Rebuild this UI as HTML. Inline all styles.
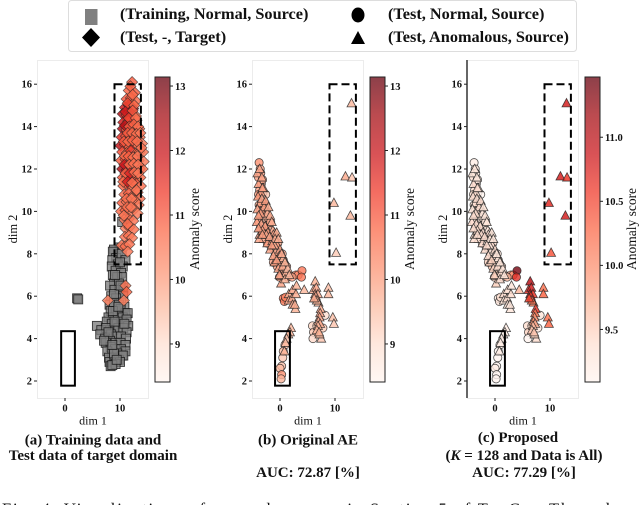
<!DOCTYPE html>
<html>
<head>
<meta charset="utf-8">
<title>Anomaly score visualization</title>
<style>
html,body{margin:0;padding:0;background:#fff;width:640px;height:505px;overflow:hidden}
svg{display:block;font-family:"Liberation Serif",serif;filter:blur(0.35px)}
</style>
</head>
<body>
<svg id="fig" width="640" height="505" viewBox="0 0 640 505" xmlns="http://www.w3.org/2000/svg">
<defs>
<linearGradient id="reds" x1="0" y1="1" x2="0" y2="0">
<stop offset="0" stop-color="#fff5f0"/><stop offset="0.125" stop-color="#fee0d2"/><stop offset="0.25" stop-color="#fcbba1"/><stop offset="0.375" stop-color="#fc9272"/><stop offset="0.5" stop-color="#fb6a4a"/><stop offset="0.625" stop-color="#ef3b2c"/><stop offset="0.75" stop-color="#cb181d"/><stop offset="0.875" stop-color="#a50f15"/><stop offset="1" stop-color="#67000d"/>
</linearGradient>
</defs>
<g>
<rect x="68.5" y="0.5" width="508" height="51" rx="3" fill="#fff" stroke="#ddd"/>
<rect x="85" y="9" width="12.5" height="16" fill="#808080"/>
<polygon points="91,28 100,37.5 91,47 82,37.5" fill="#000"/>
<ellipse cx="358" cy="15" rx="6.5" ry="7.5" fill="#000"/>
<polygon points="358,31 365,44 351,44" fill="#000"/>
<g font-size="16.3" font-weight="bold" fill="#111">
<text x="120" y="19">(Training, Normal, Source)</text>
<text x="120" y="42">(Test, -, Target)</text>
<text x="388" y="19">(Test, Normal, Source)</text>
<text x="388" y="42">(Test, Anomalous, Source)</text>
</g>
</g>
<g font-size="15" font-weight="bold" fill="#111" text-anchor="middle">
<text x="93" y="444.5">(a) Training data and</text>
<text x="93" y="460">Test data of target domain</text>
<text x="308" y="444.5">(b) Original AE</text>
<text x="308" y="477">AUC: 72.87 [%]</text>
<text x="518" y="442">(c) Proposed</text>
<text x="524" y="460">(<tspan font-style="italic">K</tspan> = 128 and Data is All)</text>
<text x="524" y="477">AUC: 77.29 [%]</text>
</g>
<text x="2" y="514.5" font-size="16.5" fill="#111" textLength="634">Fig. 4:  Visualizations of anomaly scores in Section 5 of ToyCar. The colors</text>
</svg>
<script>
// Axis ticks
var yTicks = [2,4,6,8,10,12,14,16];
var xTicks = [0,10];
var cbTicksA = [9,10,11,12,13];
var cbTicksB = [9,10,11,12,13];
var cbTicksC = [9.5,10.0,10.5,11.0];
var cbLabelsC = ['9.5','10.0','10.5','11.0'];
var cbRangeA = [8.41,13.14];
var cbRangeC = [9.09,11.47];

// Training source squares
var trainX = [2.2,2.4,10.4,
 9.9,8.9,9.7,8.7,9.3,10.3,11,8.6,9.6,10.5,8.5,9.2,10.2,8.7,9.5,10.4,
 8.9,9.8,10.6,8.2,9,9.9,10.6,8.4,9.3,10.2,8.1,8.9,9.8,10.8,
 8.3,9.2,10.1,11,7.9,8.7,9.6,10.5,11.4,7.6,8.5,9.4,10.3,11.2,11.5,
 7.8,8.8,9.7,10.6,11.2,5.8,6.6,7.5,8.4,9.3,10.2,11.1,6.4,7.3,8.2,9.2,10.1,11,
 7.4,8.3,9.1,10.2,11,7.7,8.6,9.5,10.4,8,8.9,9.8,10.6,8.1,9,10,8.3,9.2,8.6,8.9,
 9.1,10.0,8.9,10.1,8.7,9.7,7.9,9.0,10.8,7.1,8.6,9.4];
var trainY = [5.9,5.85,9.5,
 8.3,8.2,8.0,8.1,7.8,8.0,7.7,7.7,7.5,7.4,7.4,7.2,7.1,7.0,6.9,6.9,
 6.6,6.6,6.4,6.5,6.3,6.1,6.0,6.0,5.9,5.7,5.6,5.7,5.6,5.5,
 5.3,5.3,5.4,5.2,5.0,5.0,5.1,5.0,5.2,4.8,4.7,4.7,4.8,4.9,4.6,
 4.4,4.4,4.5,4.5,4.3,4.6,4.4,4.5,4.2,4.1,4.1,4.0,4.2,4.0,3.9,3.8,3.8,3.7,
 3.8,3.6,3.5,3.5,3.4,3.4,3.3,3.3,3.2,3.1,3.1,3.0,3.2,2.9,2.9,2.9,2.7,2.8,2.75,3.3,
 7.0,7.6,6.1,6.5,5.3,5.5,4.3,4.8,4.7,3.9,3.7,3.0];

// Test target diamonds
var targetX = [12.2,
 11.6,12.7, 11.2,12.0,12.9, 10.9,11.6,12.4, 10.5,11.2,12.0,12.9,
 10.6,11.5,12.2,13.0, 10.5,11.2,12.0,12.8,13.5, 10.3,11.1,11.9,12.7,13.6,
 10.1,10.9,11.7,12.5,13.3,14.0, 10.4,11.2,12.0,12.8,13.6,14.2,
 10.2,11.0,11.8,12.6,13.4,14.3, 10.4,11.2,12.0,12.8,13.6,14.1,
 10.5,11.3,12.1,12.9,13.7, 10.6,11.4,12.2,13.0,13.8,
 10.8,11.6,12.4,13.2,13.6, 10.4,11.2,12.0,12.8,13.4,
 10.2,11.0,11.8,12.6,13.2, 10.8,11.6,12.4, 11.0,11.7,12.5,
 10.9,11.6,12.2, 10.3,11.0,11.7, 11.4,
 7.8,10.7,11.0,11.2,
 11.9,12.3,11.4,12.6,11.0,12.3,11.6,12.9,10.9,11.7,12.5,13.3,11.4,12.2,13.0,13.7,
 10.7,11.5,12.3,13.1,13.9,10.9,11.6,12.4,13.2,10.8,11.7,12.5,13.3,11.0,11.8,12.6,13.3,
 10.6,11.4,12.2,13,11.2,12.1,11.3,12.0,10.7,11.4];
var targetY = [16.1,
 15.7,15.6, 15.3,15.35,15.2, 14.9,15.0,14.85, 14.6,14.55,14.65,14.5,
 14.2,14.25,14.15,14.3, 13.9,13.85,13.95,13.8,13.9, 13.5,13.55,13.45,13.6,13.5,
 13.1,13.15,13.05,13.2,13.1,13.2, 12.8,12.75,12.85,12.7,12.8,12.8,
 12.4,12.45,12.35,12.5,12.4,12.35, 12.0,11.95,12.05,11.9,12.0,12.0,
 11.6,11.65,11.55,11.7,11.6, 11.2,11.25,11.15,11.3,11.2,
 10.8,10.85,10.75,10.9,10.6, 10.4,10.45,10.35,10.5,10.3,
 10.0,10.05,9.95,10.1,9.9, 9.6,9.65,9.55, 9.2,9.25,9.15,
 8.8,8.85,8.75, 8.4,8.35,8.45, 8.1,
 5.8,5.8,6.5,6.2,
 15.9,15.5,15.1,15.0,14.7,14.75,14.4,14.4,14.05,14.0,14.1,14.0,13.7,13.7,13.65,13.7,
 13.3,13.3,13.35,13.3,13.0,12.6,12.6,12.55,12.6,12.2,12.2,12.25,12.2,11.8,11.8,11.85,11.8,
 11.4,11.4,11.35,11.0,10.6,10.6,10.2,10.2,9.8,9.4];
var targetScore = [10.9,
 10.8,10.9, 11.0,10.9,10.7, 11.9,12.3,12.4, 12.3,11.3,12.4,10.7,
 11.8,11.1,10.9,10.6, 12.4,10.9,12.1,11.2,10.8, 11.6,11.0,11.9,10.9,10.6,
 12.1,11.3,10.9,11.2,10.6,10.5, 11.1,10.8,11.4,10.9,10.7,10.5,
 10.9,11.2,10.7,11.0,10.8,10.5, 12.4,12.2,10.9,11.3,10.8,10.6,
 11.0,10.7,12.0,10.9,10.7, 10.8,11.0,10.7,11.1,10.6,
 10.7,10.9,10.6,10.8,10.6, 10.9,10.6,10.8,10.7,10.5,
 10.7,10.9,10.6,10.7,10.5, 10.6,10.8,10.6, 10.5,10.7,10.6,
 10.6,10.7,10.5, 10.6,10.7,10.6, 10.5,
 10.4,10.4,10.6,10.8,
 10.9,10.8,11.2,10.8,11.9,11.0,11.3,10.7,12.2,11.0,10.9,10.7,11.0,10.8,10.7,10.6,
 11.0,10.8,10.9,10.7,10.6,10.8,10.9,10.7,10.6,11.9,10.8,10.7,10.6,10.9,11.7,10.7,10.6,
 10.8,11.8,10.7,10.6,10.7,10.6,10.7,10.6,10.6,10.7];

// Test normal source circles
var normalX = [-3.8,-3.6,-3.9,-3.4,-3.7,-3.1,-3.0,-2.6,-3.8,-3.3,-2.5,-2.9,-3.8,-2.0,-3.3,-1.6,-2.6,-1.9,-0.9,-1.4,-0.7,-0.4,-0.9,-0.2,0.4,-0.5,0.2,0.9,0.5,1.4,2.9,3.3,4.0,3.9,
 0.6,0.8,1.0, 0.9,0.6,0.5,0.3,0,0.3,0.2, 5.9,6.1,6.0,7.8,8.2,6.7,
 -3.5,-3.2,-3.9,-2.8,-3.6,-2.2,-3.0,-1.7,-2.3,-1.1,-3.6,-0.6,-1.2,0.1,0.8,-0.1,1.2,1.7,2.2,0.6];
var normalY = [12.3,12.0,11.6,11.3,11.0,10.9,10.4,10.8,10.3,9.9,10.0,9.6,9.5,9.4,9.1,9.1,8.9,8.7,8.6,8.3,8.2,8.5,7.9,7.7,8.0,7.4,7.2,7.5,7.0,6.9,7.0,7.0,7.2,6.9,
 5.9,5.75,5.95, 3.7,3.4,3.1,2.7,2.6,2.3,2.1, 4.6,4.3,4.0,4.5,5.1,4.6,
 11.8,11.5,10.8,10.2,10.0,9.7,9.3,9.5,8.5,8.9,9.2,8.0,7.6,7.4,7.1,6.9,7.4,7.0,6.9,7.7];
var normalScoreAE = [10.2,9.9,10.0,9.9,10.0,9.9,10.0,9.4,9.9,10.0,9.9,9.8,10.0,9.9,10.0,9.8,9.9,10.0,9.9,10.0,9.8,9.9,10.1,9.9,9.8,10.0,9.8,9.9,10.1,9.8,10.4,10.3,10.6,10.6,
 10.6,10.5,10.4, 9.5,9.6,9.4,9.5,9.6,10.2,9.7, 9.2,9.4,9.1,9.3,9.0,9.2,
 10.0,9.9,10,9.9,10,9.8,10,9.9,10,9.8,10,9.9,10,9.8,9.9,10,9.8,10,10,9.9];
var normalScoreProposed = [9.2,9.3,9.4,9.3,9.4,9.3,9.4,9.1,9.3,9.4,9.3,9.3,9.4,9.3,9.4,9.3,9.3,9.4,9.3,9.5,9.3,9.4,9.5,9.4,9.3,9.6,9.4,9.4,9.6,9.4,9.9,10.0,11.4,10.7,
 9.2,9.3,9.4, 9.2,9.1,9.1,9.1,9.2,9.1,9.1, 9.4,9.5,9.1,9.3,9.3,9.4,
 9.3,9.3,9.4,9.3,9.4,9.3,9.4,9.3,9.4,9.3,9.4,9.4,9.5,9.4,9.5,9.5,9.4,9.6,9.7,9.4];

// Test anomalous source triangles
var anomalyX = [-4.1,-3.9,-3.3,-3.5,-4.0,-3.0,-3.6,-4.1,-2.9,-2.3,-3.5,-1.8,-4.2,-3.4,-2.7,-1.3,-3.7,-3.0,-2.2,-1.2,-0.6,-3.8,-2.3,-1.4,-0.5,-1.8,-0.8,0.0,-1.0,-0.1,0.6,-1.2,-0.3,0.5,0.1,1.1,1.4,0.2,
 1.6,2.3,3.0,1.6,2.2,2.9,2.3,2.8,2.7,4.4,
 6.1,6.4,6.6,6.4,6.9,6.6,7.0,6.5,6.7,8.8,8.8,
 7.4,7.3,7.2,7.0,7.3,9.6,9.8,6.9,6.7,7.5,7.2,
 2.0,1.8,1.5,1.2,1.0,0.8, 13,11.9,13.1,9.8,12.8,10.2,
 -3.7,-3.2,-3.3,-2.6,-3.9,-2.1,-3.2,-1.5,-3.9,-2.5,-1.0,-3.2,-1.9,-0.9,-1.5,-0.3,-0.6,0.3,0.9,-0.1,0.9,1.7,6.2,7.1];
var anomalyY = [11.8,11.3,11.6,10.9,10.7,11.1,10.4,10.1,10.2,9.9,9.9,9.8,9.5,9.4,9.3,9.1,8.9,8.7,9.0,8.9,9.0,8.7,8.5,8.6,8.4,8.2,8.1,8.2,7.6,7.9,7.8,7.9,7.3,7.4,6.95,7.1,7.3,6.6,
 6.1,6.3,6.5,5.8,5.9,6.1,5.6,5.4,5.6,6.3,
 6.3,6.7,6.4,6.1,6.1,5.9,5.7,6.0,5.8,6.4,6.1,
 5.4,5.2,5.0,4.8,4.7,5.0,4.7,4.6,4.4,4.0,4.2,
 4.5,4.3,4.2,4.0,3.8,3.4, 15.1,11.65,11.6,10.4,9.8,8.05,
 12.0,11.1,10.6,10.5,9.8,10.2,9.1,9.5,9.2,8.9,8.4,8.9,8.8,8.7,8.4,8.7,7.7,8.0,7.6,7.0,6.8,7.0,5.9,4.3];
var anomalyScoreAE = [9.9,10.0,9.9,10.0,10.1,9.8,10.0,9.9,10.0,9.8,10.0,9.8,10.0,9.9,10.0,9.8,10.0,9.9,10.0,9.9,9.8,9.9,10.0,9.9,10.0,9.9,9.8,9.9,10.0,9.9,9.7,9.9,9.9,9.8,9.9,9.7,9.6,9.9,
 9.8,9.9,9.7,9.8,9.9,9.8,9.8,9.7,9.8,9.6,
 9.8,9.7,9.9,9.9,9.8,9.8,9.6,9.9,9.7,9.5,9.6,
 9.8,9.9,9.9,9.8,9.8,9.5,9.4,9.7,9.7,9.4,9.6,
 9.6,9.7,9.6,9.5,9.6,9.7, 9.6,9.8,9.4,9.6,9.6,9.3,
 9.9,10,9.9,10,10,9.8,10,9.8,10,9.9,9.8,10,9.9,9.8,10,9.8,10,9.8,9.7,9.9,9.7,9.6,9.8,9.7];
var anomalyScoreProposed = [9.3,9.4,9.3,9.4,9.4,9.3,9.4,9.3,9.4,9.3,9.4,9.3,9.4,9.4,9.4,9.3,9.4,9.4,9.4,9.4,9.3,9.4,9.4,9.3,9.4,9.4,9.3,9.4,9.5,9.4,9.3,9.4,9.5,9.4,9.5,9.4,9.3,9.5,
 9.4,9.4,9.3,9.3,9.4,9.4,9.3,9.3,9.3,9.7,
 10.7,11.0,10.8,10.7,10.6,10.5,10.1,10.6,10.2,10.2,10.3,
 10.6,10.2,10.0,10.0,9.8,10.2,10.3,9.7,9.6,9.4,9.5,
 9.2,9.2,9.1,9.2,9.2,9.2, 10.8,10.8,10.6,10.7,10.8,10.4,
 9.3,9.4,9.4,9.4,9.4,9.3,9.4,9.3,9.4,9.4,9.3,9.4,9.4,9.3,9.4,9.3,9.5,9.3,9.3,9.5,9.4,9.3,10.5,9.6];

var NS = 'http://www.w3.org/2000/svg';
var svg = document.getElementById('fig');
var redStops = [[255,245,240],[254,224,210],[252,187,161],[252,146,114],[251,106,74],[239,59,44],[203,24,29],[165,15,21],[103,0,13]];

function make(tag, attrs, parent) {
  var el = document.createElementNS(NS, tag);
  for (var k in attrs) el.setAttribute(k, attrs[k]);
  (parent || svg).appendChild(el);
  return el;
}
function scoreColor(value, range) {
  var t = Math.max(0, Math.min(1, (value - range[0]) / (range[1] - range[0]))) * 8;
  var i = Math.min(7, Math.floor(t));
  var f = t - i;
  var c = redStops[i].map(function (v, n) { return Math.round(v + (redStops[i + 1][n] - v) * f); });
  return 'rgb(' + c.join(',') + ')';
}
var Y_ZERO = 381, Y_UNIT = 21.2;
function yScale(v) { return Y_ZERO - (v - 2) * Y_UNIT; }

function drawPanel(p) {
  var g = make('g', {});
  
  
  function xScale(v) { return p.x0 + v * 5.5; }
  var frame = make('rect', {x: p.left + 0.5, y: 60.5, width: 111, height: 338, fill: '#fff', stroke: '#ececec', 'stroke-width': 1}, g);
  
  
  if (p.darkSpine) {
    var spine = make('line', {x1: p.left, x2: p.left, y1: 60, y2: 398, stroke: '#666', 'stroke-width': 2}, g);
    
    
  }
  yTicks.forEach(function (t) {
    var tick = make('line', {x1: p.left - 3, x2: p.left, y1: yScale(t), y2: yScale(t), stroke: '#222', 'stroke-width': 1}, g);
    
    
    var lab = make('text', {x: p.left - 5, y: yScale(t) + 3.5, 'font-size': 10.5, 'font-weight': 'bold', 'text-anchor': 'end', fill: '#111'}, g);
    
    
    lab.textContent = t;
  });
  xTicks.forEach(function (t) {
    var tick = make('line', {x1: xScale(t), x2: xScale(t), y1: 398, y2: 401, stroke: '#222', 'stroke-width': 1}, g);
    
    
    var lab = make('text', {x: xScale(t), y: 411.5, 'font-size': 10.5, 'font-weight': 'bold', 'text-anchor': 'middle', fill: '#111'}, g);
    
    
    lab.textContent = t;
  });
  var xt = make('text', {x: p.left + 56, y: 424.5, 'font-size': 12, 'text-anchor': 'middle', fill: '#111'}, g);
  
  
  xt.textContent = 'dim 1';
  var yt = make('text', {transform: 'translate(' + (p.left - 20) + ',229) rotate(-90)', 'font-size': 12.5, 'text-anchor': 'middle', fill: '#111'}, g);
  
  
  yt.textContent = 'dim 2';

  function square(x, y, fill) {
    var s = make('rect', {x: xScale(x) - 4.5, y: yScale(y) - 4.5, width: 9, height: 9, fill: fill, 'fill-opacity': 0.8, stroke: '#111', 'stroke-opacity': 0.8, 'stroke-width': 0.9}, g);
    
    
  }
  function diamond(x, y, fill) {
    var cx = xScale(x), cy = yScale(y);
    var d = make('polygon', {points: cx + ',' + (cy - 5.6) + ' ' + (cx + 5.6) + ',' + cy + ' ' + cx + ',' + (cy + 5.6) + ' ' + (cx - 5.6) + ',' + cy, fill: fill, 'fill-opacity': 0.85, stroke: '#222', 'stroke-opacity': 0.7, 'stroke-width': 0.7}, g);
    
    
  }
  function circle(x, y, fill) {
    var c = make('circle', {cx: xScale(x), cy: yScale(y), r: 4.1, fill: fill, 'fill-opacity': 0.8, stroke: '#222', 'stroke-opacity': 0.8, 'stroke-width': 0.8}, g);
    
    
  }
  function triangle(x, y, fill) {
    var cx = xScale(x), cy = yScale(y);
    var t = make('polygon', {points: cx + ',' + (cy - 4.8) + ' ' + (cx + 4.5) + ',' + (cy + 3.6) + ' ' + (cx - 4.5) + ',' + (cy + 3.6), fill: fill, 'fill-opacity': 0.85, stroke: '#222', 'stroke-opacity': 0.8, 'stroke-width': 0.8}, g);
    
    
  }
  if (p.showTarget) {
    trainX.forEach(function (x, i) { square(x, trainY[i], '#808080'); });
    targetX.forEach(function (x, i) { diamond(x, targetY[i], scoreColor(targetScore[i], p.range)); });
  } else {
    normalX.forEach(function (x, i) { circle(x, normalY[i], scoreColor(p.normalScore[i], p.range)); });
    anomalyX.forEach(function (x, i) { triangle(x, anomalyY[i], scoreColor(p.anomalyScore[i], p.range)); });
  }

  var dash = make('rect', {x: xScale(p.dashX[0]), y: yScale(16), width: xScale(p.dashX[1]) - xScale(p.dashX[0]), height: yScale(7.5) - yScale(16), fill: 'none', stroke: '#000', 'stroke-width': 2, 'stroke-dasharray': '8 4'}, g);
  
  
  var solid = make('rect', {x: xScale(p.solidX[0]), y: yScale(4.35), width: xScale(p.solidX[1]) - xScale(p.solidX[0]), height: yScale(1.78) - yScale(4.35), fill: 'none', stroke: '#000', 'stroke-width': 2}, g);
  
  

  var barX = p.left + 118;
  function cbY(v) { return 382 - (v - p.range[0]) / (p.range[1] - p.range[0]) * 305; }
  var bar = make('rect', {x: barX, y: 77, width: 15, height: 305, fill: 'url(#reds)', 'fill-opacity': 0.75}, g);
  
  
  var barEdge = make('rect', {x: barX, y: 77, width: 15, height: 305, fill: 'none', stroke: '#222', 'stroke-width': 1}, g);
  
  
  p.cbTicks.forEach(function (t, i) {
    var tick = make('line', {x1: barX + 15, x2: barX + 18, y1: cbY(t), y2: cbY(t), stroke: '#222', 'stroke-width': 1}, g);
    
    
    var lab = make('text', {x: barX + 20, y: cbY(t) + 3.8, 'font-size': 10.5, 'font-weight': 'bold', fill: '#111'}, g);
    
    
    lab.textContent = p.cbLabels[i];
  });
  var cbt = make('text', {transform: 'translate(' + p.cbTitleX + ',229) rotate(-90)', 'font-size': 13.5, 'text-anchor': 'middle', fill: '#111'}, g);
  
  
  cbt.textContent = 'Anomaly score';
}

drawPanel({id: 'panel-a', left: 37, x0: 65, showTarget: true, range: cbRangeA, cbTicks: cbTicksA, cbLabels: cbTicksA, cbTitleX: 199, dashX: [9, 13.8], solidX: [-0.7, 1.8]});
drawPanel({id: 'panel-b', left: 252, x0: 280, range: cbRangeA, normalScore: normalScoreAE, anomalyScore: anomalyScoreAE, cbTicks: cbTicksB, cbLabels: cbTicksB, cbTitleX: 414, dashX: [9, 13.8], solidX: [-0.9, 1.8]});
drawPanel({id: 'panel-c', left: 467, x0: 495, darkSpine: true, range: cbRangeC, normalScore: normalScoreProposed, anomalyScore: anomalyScoreProposed, cbTicks: cbTicksC, cbLabels: cbLabelsC, cbTitleX: 636, dashX: [9, 13.8], solidX: [-0.9, 1.8]});
</script>
</body>
</html>
